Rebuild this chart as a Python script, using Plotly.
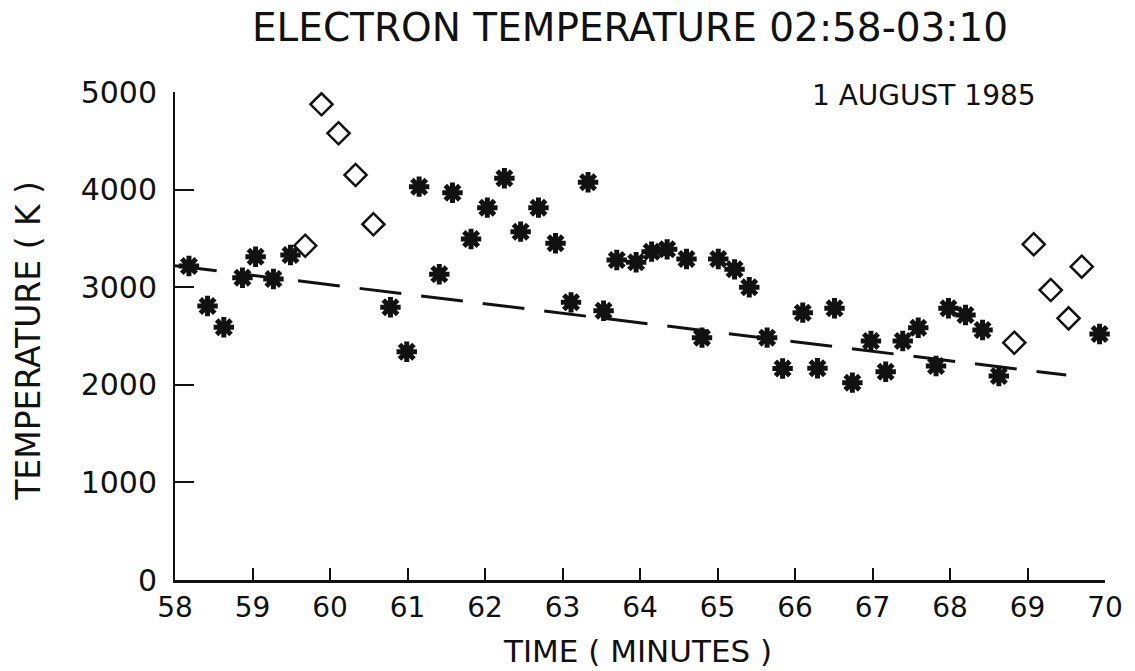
import plotly.graph_objects as go

# ---- data ----
star_time = [57.97, 58.18, 58.42, 58.63, 58.87, 59.04, 59.27, 59.49, 60.78, 60.99,
             61.15, 61.41, 61.58, 61.82, 62.03, 62.25, 62.46, 62.69, 62.91, 63.11,
             63.33, 63.53, 63.70, 63.95, 64.15, 64.35, 64.60, 64.80, 65.01, 65.22,
             65.41, 65.64, 65.84, 66.10, 66.29, 66.51, 66.74, 66.98, 67.17, 67.39,
             67.59, 67.82, 67.98, 68.20, 68.42, 68.63, 69.93]
star_temp = [3033, 3217, 2807, 2589, 3097, 3312, 3084, 3330, 2794, 2339,
             4030, 3132, 3968, 3494, 3815, 4116, 3569, 3815, 3450, 2845,
             4075, 2759, 3279, 3255, 3364, 3388, 3289, 2483, 3289, 3183,
             2999, 2483, 2167, 2739, 2169, 2784, 2022, 2449, 2134, 2449,
             2585, 2193, 2784, 2715, 2561, 2090, 2520]

diamond_time = [59.68, 59.89, 60.11, 60.33, 60.56, 68.83, 69.08, 69.30, 69.53, 69.70]
diamond_temp = [3425, 4874, 4577, 4150, 3645, 2431, 3440, 2971, 2681, 3210]

fit_time = [58.0, 69.5]
fit_temp = [3220, 2100]

x_ticks = list(range(58, 71))
y_ticks = [0, 1000, 2000, 3000, 4000, 5000]

FONT = "DejaVu Sans"
INK = "#111111"
W, H = 1135, 671

fig = go.Figure()

# fitted trend (dashed)
fig.add_trace(go.Scatter(
    x=fit_time, y=fit_temp, mode="lines",
    line=dict(color=INK, width=3, dash="42px,20px"),
    hoverinfo="skip", showlegend=False,
))

# asterisk points
fig.add_trace(go.Scatter(
    x=star_time, y=star_temp, mode="markers",
    marker=dict(symbol="asterisk", size=17, color=INK,
                line=dict(color=INK, width=5)),
    cliponaxis=False, showlegend=False,
))

# open diamond points
fig.add_trace(go.Scatter(
    x=diamond_time, y=diamond_temp, mode="markers",
    marker=dict(symbol="diamond-open", size=17, color=INK,
                line=dict(color=INK, width=2.5)),
    cliponaxis=False, showlegend=False,
))

fig.update_layout(
    width=W, height=H,
    paper_bgcolor="white", plot_bgcolor="white",
    margin=dict(l=175, r=W - 1110, t=92, b=H - 580, pad=0),
    font=dict(family=FONT, color=INK),
    title=dict(
        text="ELECTRON TEMPERATURE 02:58-03:10",
        font=dict(family=FONT, size=39, color=INK),
        xref="container", x=630 / W, xanchor="center",
        yref="container", y=1 - 27 / H, yanchor="middle",
    ),
    xaxis=dict(
        range=[58, 70], tickvals=x_ticks,
        showgrid=False, zeroline=False,
        showline=True, linecolor=INK, linewidth=3,
        ticks="inside", ticklen=12, tickwidth=1.5, tickcolor=INK,
        tickfont=dict(family=FONT, size=28, color=INK),
        ticklabelstandoff=0, ticklabeloverflow="allow",
    ),
    yaxis=dict(
        range=[0, 5000], tickvals=y_ticks,
        showgrid=False, zeroline=False,
        showline=True, linecolor=INK, linewidth=2,
        ticks="inside", ticklen=19, tickwidth=2, tickcolor=INK,
        tickfont=dict(family=FONT, size=30, color=INK),
        ticklabelstandoff=10,
    ),
    annotations=[
        dict(text="1 AUGUST 1985", xref="paper", yref="paper",
             x=(928 - 175) / 935, y=(580 - 95) / 488,
             xanchor="center", yanchor="middle", showarrow=False,
             font=dict(family=FONT, size=28, color=INK)),
        dict(text="TEMPERATURE ( K )", xref="paper", yref="paper",
             x=(27 - 175) / 935, y=(580 - 341) / 488, textangle=-90,
             xanchor="center", yanchor="middle", showarrow=False,
             font=dict(family=FONT, size=33, color=INK)),
        dict(text="TIME ( MINUTES )", xref="paper", yref="paper",
             x=(640 - 175) / 935, y=(580 - 651) / 488,
             xanchor="center", yanchor="middle", showarrow=False,
             font=dict(family=FONT, size=31, color=INK)),
    ],
)

# drop the browser's default 8px body margin so the figure sits at the corner
fig.write_html(
    "out.html",
    config={"displayModeBar": False},
    post_script="document.body.style.margin='0';document.body.style.overflow='hidden';",
)
